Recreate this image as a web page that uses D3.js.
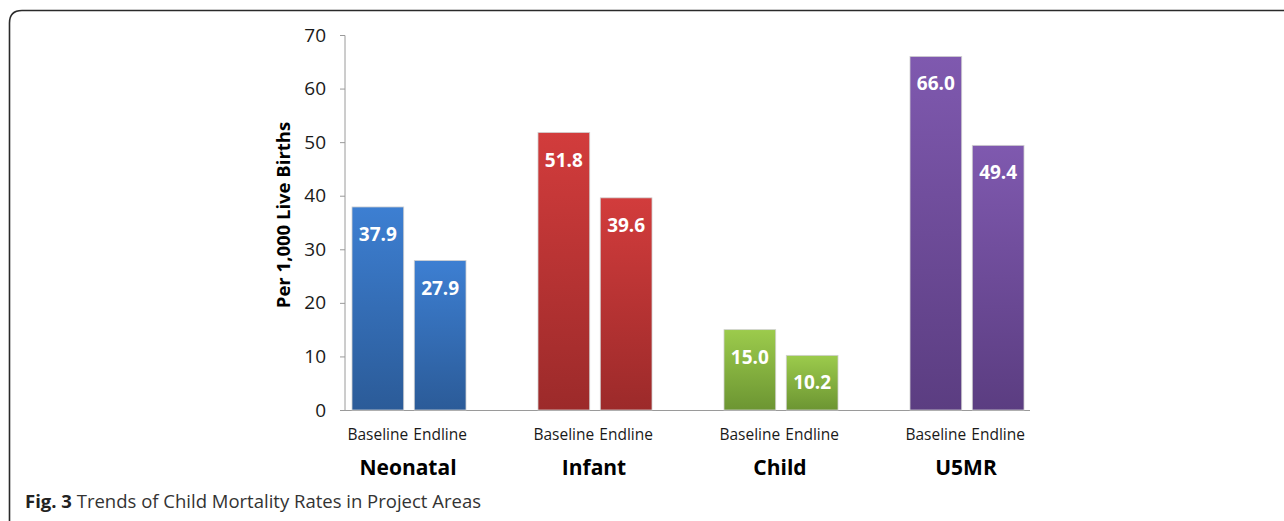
<!DOCTYPE html>
<html><head><meta charset="utf-8">
<script src="https://cdn.jsdelivr.net/npm/d3@7"></script>
<style>body{margin:0;background:#fff;}svg{display:block;}</style>
</head><body>
<script>
const categories = ["Neonatal", "Infant", "Child", "U5MR"];
const series = ["Baseline", "Endline"];
const baselineValues = [37.9, 51.8, 15.0, 66.0];
const endlineValues = [27.9, 39.6, 10.2, 49.4];
const yTicks = [0, 10, 20, 30, 40, 50, 60, 70];
const colors = {
  Neonatal: ["#3d7fd2", "#2b5b98"],
  Infant: ["#d23c3c", "#9c2a2a"],
  Child: ["#9ccb4c", "#6c9532"],
  U5MR: ["#7f59af", "#5b3d81"]
};
const yTitle = "Per 1,000 Live Births";
const captionBold = "Fig. 3";
const captionText = " Trends of Child Mortality Rates in Project Areas";

const W = 1284, H = 521;
const svg = d3.select("body").append("svg").attr("width", W).attr("height", H);
const font = "'Open Sans', sans-serif";

// frame
svg.append("path")
  .attr("d", `M9.5,${H} L9.5,23 Q9.5,10.5 22,10.5 L${W},10.5`)
  .attr("fill", "none").attr("stroke", "#2a2a2a").attr("stroke-width", 1.6);

const defs = svg.append("defs");
categories.forEach((c, i) => {
  const g = defs.append("linearGradient").attr("id", "g" + i)
    .attr("x1", 0).attr("y1", 0).attr("x2", 0).attr("y2", 1);
  g.append("stop").attr("offset", "0%").attr("stop-color", colors[c][0]);
  g.append("stop").attr("offset", "100%").attr("stop-color", colors[c][1]);
});

const x0 = d3.scaleBand().domain(categories).range([316, 1060]);
const x1 = d3.scaleBand().domain(series).range([36, 150]).paddingInner(0.17);
const y = d3.scaleLinear().domain([0, 70]).range([410, 35]);

// y axis
const yAxis = svg.append("g").attr("transform", "translate(345,0)")
  .call(d3.axisLeft(y).tickValues(yTicks).tickSize(5).tickPadding(14).tickFormat(d3.format("d")));
yAxis.select(".domain").attr("stroke", "#9a9a9a").attr("d", "M0,35.5V410.5");
yAxis.selectAll(".tick line").attr("stroke", "#9a9a9a");
yAxis.selectAll(".tick text").attr("font-family", font).attr("font-size", 19).attr("fill", "#1a1a1a");

// x axis line
svg.append("line").attr("x1", 340).attr("x2", 1030).attr("y1", 410.5).attr("y2", 410.5)
  .attr("stroke", "#9a9a9a").attr("stroke-width", 1);

// y title
svg.append("text").attr("transform", "translate(290,215) rotate(-90)")
  .attr("text-anchor", "middle").attr("font-family", font).attr("font-weight", "bold")
  .attr("font-size", 18.5).attr("fill", "#000").text(yTitle);

const data = [];
categories.forEach((c, i) => {
  data.push({ cat: c, ci: i, s: "Baseline", v: baselineValues[i] });
  data.push({ cat: c, ci: i, s: "Endline", v: endlineValues[i] });
});

const bars = svg.append("g");
bars.selectAll("rect").data(data).join("rect")
  .attr("x", d => x0(d.cat) + x1(d.s))
  .attr("y", d => y(d.v))
  .attr("width", x1.bandwidth())
  .attr("height", d => y(0) - y(d.v))
  .attr("fill", d => `url(#g${d.ci})`)
  .attr("stroke", "#d0d0d0").attr("stroke-width", 0.8);

bars.selectAll("text.val").data(data).join("text").attr("class", "val")
  .attr("x", d => x0(d.cat) + x1(d.s) + x1.bandwidth() / 2)
  .attr("y", d => y(d.v) + 34)
  .attr("text-anchor", "middle").attr("font-family", font).attr("font-weight", "bold")
  .attr("font-size", 19).attr("fill", "#fff")
  .text(d => d.v.toFixed(1));

bars.selectAll("text.ser").data(data).join("text").attr("class", "ser")
  .attr("x", d => x0(d.cat) + x1(d.s) + x1.bandwidth() / 2)
  .attr("y", 440)
  .attr("text-anchor", "middle").attr("font-family", font)
  .attr("font-size", 15.5).attr("fill", "#1a1a1a")
  .text(d => d.s);

svg.append("g").selectAll("text").data(categories).join("text")
  .attr("x", d => x0(d) + x0.bandwidth() / 2 - 1)
  .attr("y", 475)
  .attr("text-anchor", "middle").attr("font-family", font).attr("font-weight", "bold")
  .attr("font-size", 21).attr("fill", "#000").text(d => d);

// caption
const cap = svg.append("text").attr("x", 25).attr("y", 508)
  .attr("font-family", font).attr("font-size", 18.5).attr("fill", "#333");
cap.append("tspan").attr("font-weight", "bold").attr("fill", "#222").text(captionBold);
cap.append("tspan").text(captionText);
</script>
</body></html>
